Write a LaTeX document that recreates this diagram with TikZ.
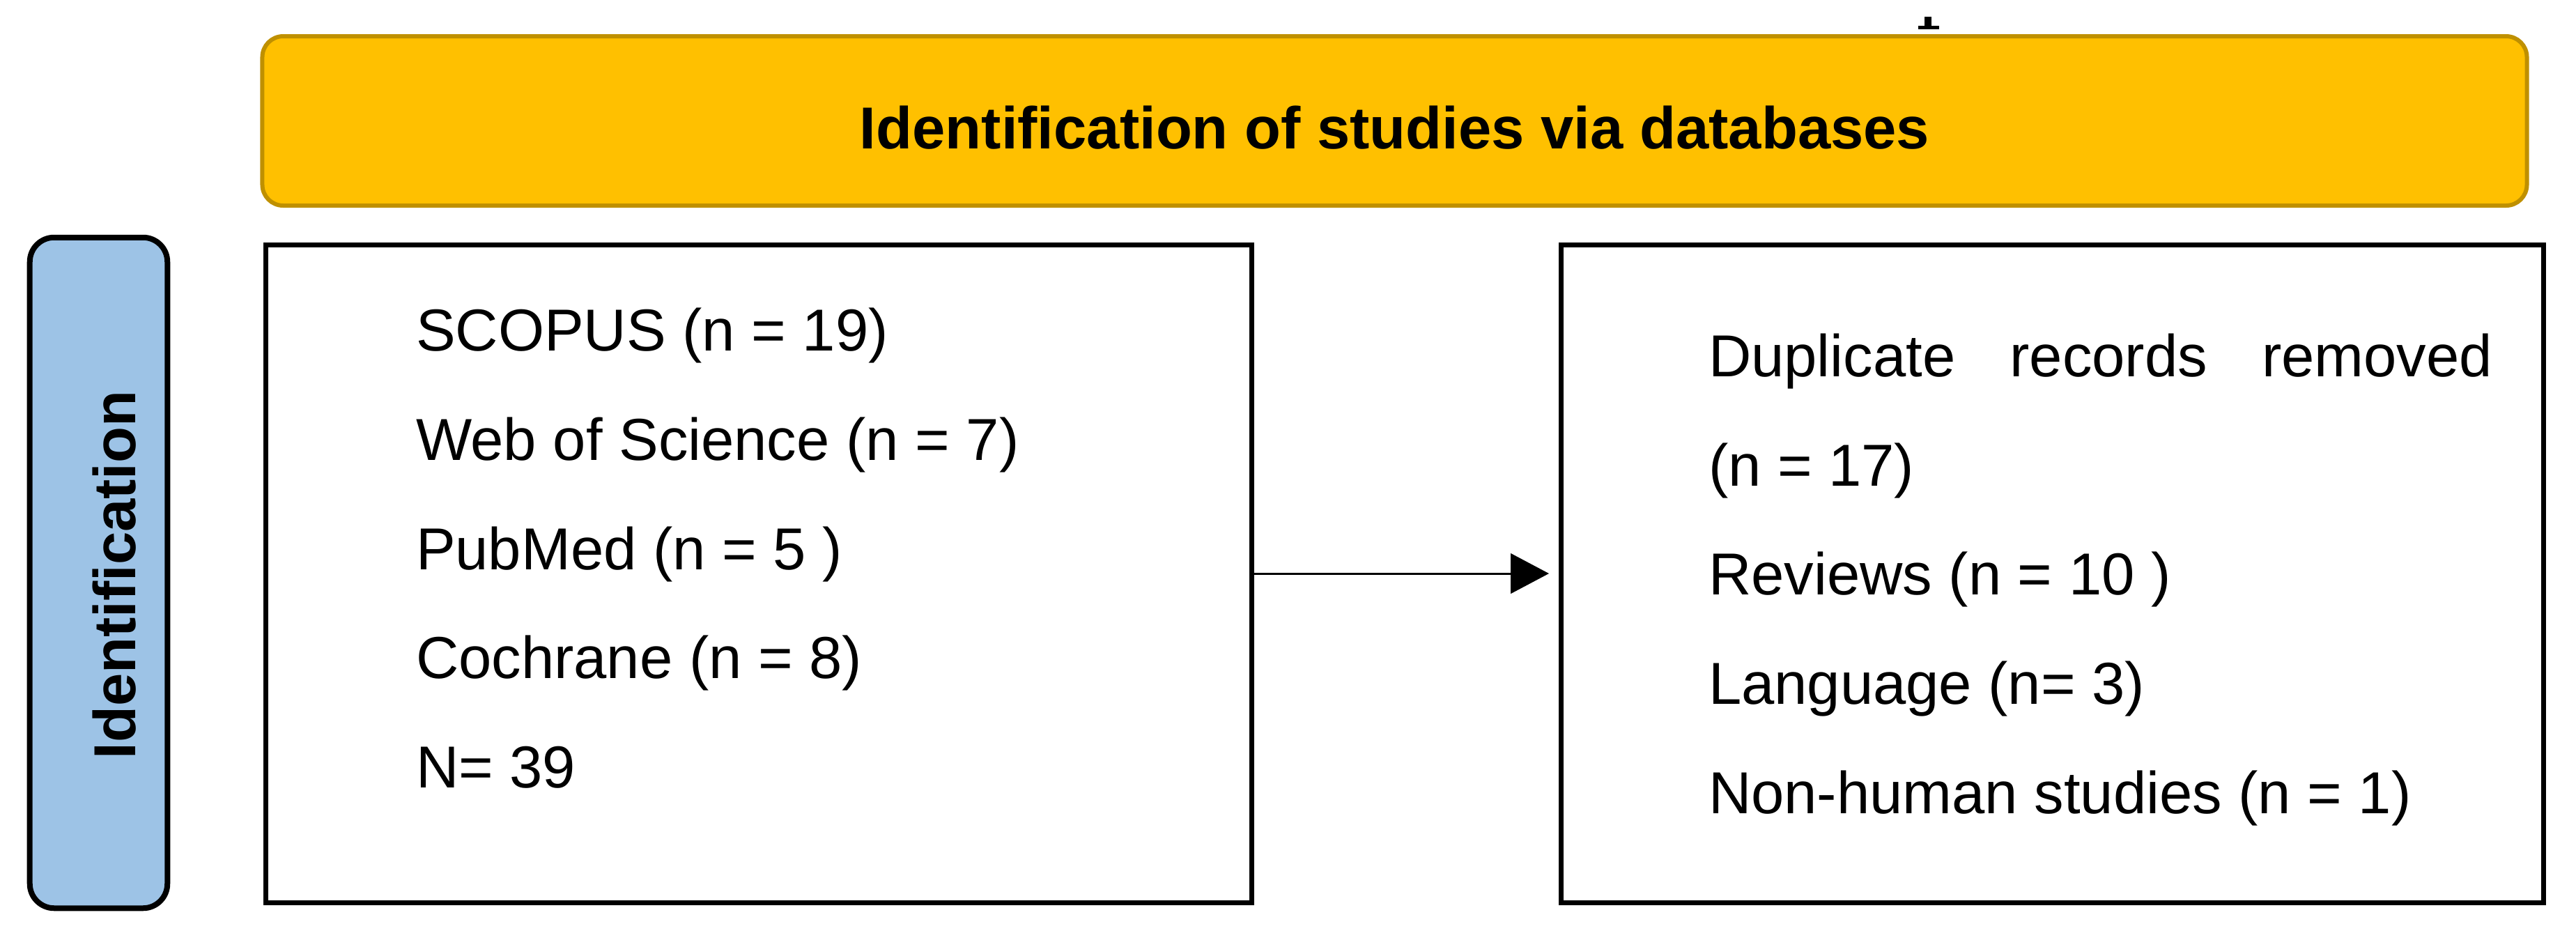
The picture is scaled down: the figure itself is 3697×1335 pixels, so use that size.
\documentclass[tikz,border=0pt]{standalone}
\usepackage{fontspec}
\setmainfont{Liberation Sans}
\usetikzlibrary{arrows.meta}
\definecolor{gold}{HTML}{FFC000}
\definecolor{golddark}{HTML}{BF9000}
\definecolor{paleblue}{HTML}{9DC3E6}
\begin{document}
\begin{tikzpicture}[x=0.2pt,y=-0.2pt,
  txt/.style={font=\fontsize{17pt}{20pt}\selectfont, inner sep=0pt, anchor=base west},
  boldtxt/.style={font=\bfseries\fontsize{17pt}{20pt}\selectfont, inner sep=0pt, anchor=base},
  plainbox/.style={draw=black, line width=1.4pt, fill=white, inner sep=0pt,
                   minimum height=188.8pt},
  connector/.style={line width=0.6pt, -{Triangle[length=11pt,width=11.5pt]}, shorten >=2.8pt}
]
\path[use as bounding box, fill=white] (0,0) rectangle (3697,1335);

% banner
\node[draw=golddark, fill=gold, line width=1.2pt, rounded corners=6pt,
      minimum width=650pt, minimum height=48.6pt, inner sep=0pt] (banner) at (2001.5,173.5) {};
\node[boldtxt] (title) at (2001.5,213) {Identification of studies via databases};

% small mark above banner
\fill (2762,24) rectangle (2772,40);
\fill (2753,37) rectangle (2783,42);

% phase label
\node[draw=black, fill=paleblue, line width=1.6pt, rounded corners=7pt,
      minimum width=39.5pt, minimum height=192.5pt, inner sep=0pt] (phase) at (141.5,822) {};
\node[boldtxt, rotate=90] (phaselabel) at (194,825) {Identification};

% boxes
\node[plainbox, minimum width=283pt] (lbox) at (1089,823) {};
\node[plainbox, minimum width=282pt] (rbox) at (2945.5,823) {};

% left box text
\node[txt] (l1) at (596,503) {SCOPUS (n = 19)};
\node[txt] (l2) at (596,660) {Web of Science (n = 7)};
\node[txt] (l3) at (596,817) {PubMed (n = 5 )};
\node[txt] (l4) at (596,973) {Cochrane (n = 8)};
\node[txt] (l5) at (596,1130) {N= 39};

% right box text
\node[txt] (r1) at (2451,540) {\hbox to 225pt{Duplicate\hfill records\hfill removed}};
\node[txt] (r2) at (2451,697) {(n = 17)};
\node[txt] (r3) at (2451,853) {Reviews (n = 10 )};
\node[txt] (r4) at (2451,1010) {Language (n= 3)};
\node[txt] (r5) at (2451,1167) {Non-human studies (n = 1)};

% connector
\draw[connector] (lbox) -- (rbox);
\end{tikzpicture}
\end{document}
